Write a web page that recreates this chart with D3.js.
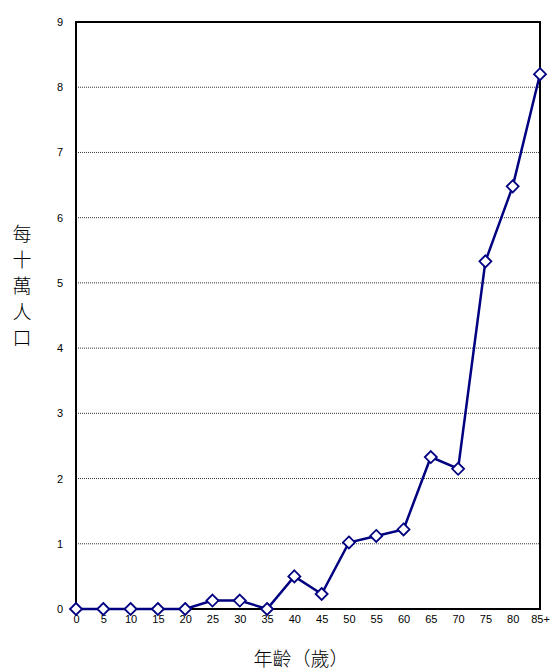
<!DOCTYPE html>
<html><head><meta charset="utf-8">
<script src="https://cdn.jsdelivr.net/npm/d3@7"></script>
<style>body{margin:0;background:#fff}svg{display:block}</style>
</head><body>
<svg id="c" width="550" height="672"></svg>
<script>
const categories = ["0","5","10","15","20","25","30","35","40","45","50","55","60","65","70","75","80","85+"];
const values = [0,0,0,0,0,0.13,0.13,0,0.5,0.23,1.02,1.12,1.22,2.33,2.15,5.33,6.48,8.2];
const yTicks = [0,1,2,3,4,5,6,7,8,9];
const yLabel = ["每","十","萬","人","口"];
const xTitle = "年齡（歲）";

const svg = d3.select("#c");
const L = 76, R = 540, T = 22, B = 609;
const x = d3.scalePoint().domain(categories).range([L, R]).padding(0);
const y = d3.scaleLinear().domain([0, 9]).range([B, T]);
const font = "Liberation Sans, Arial, sans-serif";

// gridlines
svg.append("g").selectAll("line").data(yTicks.filter(d => d > 0 && d < 9)).join("line")
  .attr("x1", L).attr("x2", R).attr("y1", d => y(d)).attr("y2", d => y(d))
  .attr("stroke", "#333").attr("stroke-width", 1).attr("stroke-dasharray", "1,1");

// frame
svg.append("rect").attr("x", L).attr("y", T).attr("width", R - L).attr("height", B - T)
  .attr("fill", "none").attr("stroke", "#000").attr("stroke-width", 2);

// y axis
const ya = svg.append("g").attr("transform", `translate(${L},0)`)
  .call(d3.axisLeft(y).tickValues(yTicks).tickSize(0).tickPadding(13));
ya.select(".domain").remove();
ya.selectAll("text").attr("font-family", font).attr("font-size", 11).attr("fill", "#000");

// x axis
const xa = svg.append("g").attr("transform", `translate(0,${B})`)
  .call(d3.axisBottom(x).tickSize(0).tickPadding(6));
xa.select(".domain").remove();
xa.selectAll("text").attr("font-family", font).attr("font-size", 11).attr("fill", "#000");

// line
const data = categories.map((c, i) => ({c, v: values[i]}));
svg.append("path").datum(data)
  .attr("d", d3.line().x(d => x(d.c)).y(d => y(d.v)))
  .attr("fill", "none").attr("stroke", "#000080").attr("stroke-width", 2.5);

// markers
svg.append("g").selectAll("path").data(data).join("path")
  .attr("transform", d => `translate(${x(d.c)},${y(d.v)})`)
  .attr("d", "M0,-6L6,0L0,6L-6,0Z")
  .attr("fill", "#fff").attr("stroke", "#000080").attr("stroke-width", 1.8);

// y label (vertical stacked)
svg.append("g").selectAll("text").data(yLabel).join("text")
  .attr("x", 22).attr("y", (d, i) => 232 + i * 26)
  .attr("text-anchor", "middle").attr("dominant-baseline", "central")
  .attr("font-family", "Noto Sans CJK TC, sans-serif").attr("font-size", 19).attr("font-weight", 300)
  .attr("fill", "#000").text(d => d);

// x title
svg.append("text").attr("x", 301).attr("y", 657)
  .attr("text-anchor", "middle").attr("dominant-baseline", "central")
  .attr("font-family", "Noto Sans CJK TC, sans-serif").attr("font-size", 19).attr("font-weight", 300)
  .attr("fill", "#000").text(xTitle);
</script>
</body></html>
